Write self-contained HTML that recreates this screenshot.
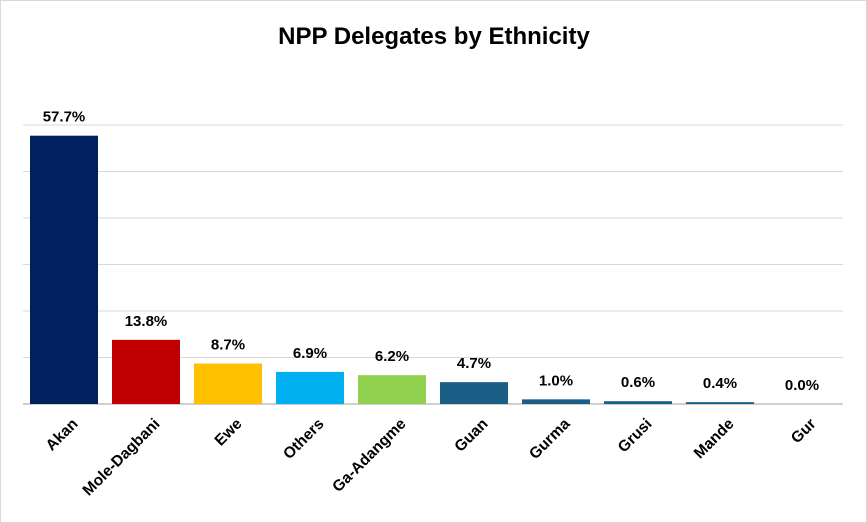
<!DOCTYPE html>
<html><head><meta charset="utf-8"><style>
body{margin:0;background:#fff;}
svg{display:block;font-family:"Liberation Sans",sans-serif;}
</style></head><body>
<svg id="chart" width="867" height="523">
<rect x="0.5" y="0.5" width="866" height="522" fill="#fff" stroke="#d9d9d9"/>
<text x="434" y="44" text-anchor="middle" font-size="24" font-weight="bold" fill="#000">NPP Delegates by Ethnicity</text>
<g id="grid"></g><g id="bars"></g><g id="labels"></g>
</svg>
<script>
const categories=["Akan","Mole-Dagbani","Ewe","Others","Ga-Adangme","Guan","Gurma","Grusi","Mande","Gur"];
const values=[57.7,13.8,8.7,6.9,6.2,4.7,1.0,0.6,0.4,0.0];
const valueLabels=["57.7%","13.8%","8.7%","6.9%","6.2%","4.7%","1.0%","0.6%","0.4%","0.0%"];
const colors=["#002060","#C00000","#FFC000","#00B0F0","#92D050","#1A5E85","#1A5E85","#1A5E85","#1A5E85","#1A5E85"];
const gridTicks=[0,10,20,30,40,50,60];
const NS="http://www.w3.org/2000/svg";
const x0=23,step=82,bw=68,base=404,ppu=(404-125)/60;
const y=v=>base-v*ppu, xc=i=>x0+step*i+step/2;
const g=document.getElementById('grid'),b=document.getElementById('bars'),l=document.getElementById('labels');
function mk(tag,attrs,parent){const e=document.createElementNS(NS,tag);for(const k in attrs)e.setAttribute(k,attrs[k]);parent.appendChild(e);return e;}
gridTicks.forEach(t=>{const e=mk('line',{x1:23,x2:843,y1:y(t),y2:y(t),stroke:t===0?'#bfbfbf':'#d9d9d9','stroke-width':t===0?1.5:1},g);

});
categories.forEach((c,i)=>{
const h=Math.max(values[i]*ppu,0);
const r=mk('rect',{x:xc(i)-bw/2,y:base-h,width:bw,height:h,fill:colors[i]},b);


const t=mk('text',{x:xc(i),y:y(values[i])-14,'text-anchor':'middle','font-size':15,'font-weight':'bold',fill:'#000'},l);
t.textContent=valueLabels[i];


const cl=mk('text',{x:xc(i)+7,y:417,'text-anchor':'end','font-size':15.5,'font-weight':'bold',fill:'#000',transform:`rotate(-45 ${xc(i)+7} 417)`,dy:'0.7em'},l);
cl.textContent=c;


});
</script>
</body></html>
